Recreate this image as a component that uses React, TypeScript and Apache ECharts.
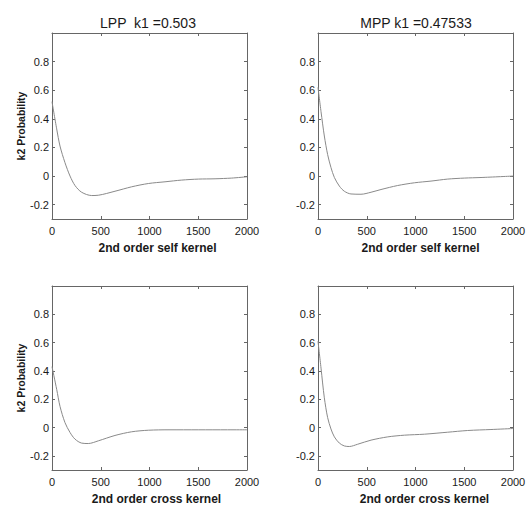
import React, { useEffect, useRef } from "react";
import * as echarts from "echarts";

// Data
const xTickValues = [0, 500, 1000, 1500, 2000];
const yTickValues = [-0.2, 0, 0.2, 0.4, 0.6, 0.8];

const titles = ["LPP  k1 =0.503", "MPP k1 =0.47533"];
const xNames = ["2nd order self kernel", "2nd order self kernel", "2nd order cross kernel", "2nd order cross kernel"];
const yName = "k2 Probability";

const lppSelfX = [0, 48, 82, 133, 185, 236, 304, 407, 475, 646, 817, 988, 1159, 1330, 1501, 1672, 1843, 2000];
const lppSelfY = [0.52, 0.33, 0.21, 0.094, 0.0, -0.066, -0.113, -0.136, -0.134, -0.106, -0.075, -0.052, -0.04, -0.028, -0.021, -0.019, -0.014, -0.005];

const mppSelfX = [0, 31, 65, 99, 133, 168, 219, 270, 338, 441, 544, 646, 817, 988, 1159, 1330, 1501, 1672, 2000];
const mppSelfY = [0.62, 0.45, 0.28, 0.15, 0.06, -0.01, -0.07, -0.106, -0.125, -0.127, -0.113, -0.094, -0.066, -0.047, -0.035, -0.021, -0.014, -0.01, 0.0];

const lppCrossX = [0, 48, 82, 133, 185, 236, 304, 372, 475, 646, 817, 988, 1200, 1500, 1800, 2000];
const lppCrossY = [0.43, 0.27, 0.15, 0.035, -0.035, -0.082, -0.11, -0.113, -0.094, -0.056, -0.03, -0.019, -0.016, -0.016, -0.016, -0.016];

const mppCrossX = [0, 31, 65, 99, 133, 168, 219, 270, 321, 407, 544, 715, 886, 1091, 1330, 1535, 1774, 2000];
const mppCrossY = [0.61, 0.42, 0.21, 0.07, -0.01, -0.066, -0.11, -0.13, -0.134, -0.118, -0.089, -0.066, -0.054, -0.047, -0.033, -0.021, -0.014, -0.007];

const seriesX = [lppSelfX, mppSelfX, lppCrossX, mppCrossX];
const seriesY = [lppSelfY, mppSelfY, lppCrossY, mppCrossY];

const FONT = '"Liberation Sans", Arial, Helvetica, sans-serif';
const AXIS_COLOR = "#666";
const TEXT_COLOR = "#1a1a1a";
const LINE_COLOR = "#8a8a8a";

const gridPos = [
  { left: 52, top: 33 },
  { left: 318, top: 33 },
  { left: 52, top: 286 },
  { left: 318, top: 286 },
];
const nameShift = [8, 5, 7, 9];

export default function App() {
  const ref = useRef<HTMLDivElement>(null);

  useEffect(() => {
    if (!ref.current) return;
    const chart = echarts.init(ref.current, null, { renderer: "svg" });

    const grids: any[] = [];
    const xAxes: any[] = [];
    const yAxes: any[] = [];
    const series: any[] = [];

    gridPos.forEach((g, i) => {
      grids.push({ left: g.left, top: g.top, width: 195, height: 186, containLabel: false });
      const lineStyle = { color: AXIS_COLOR, width: 1 };
      // bottom x axis
      xAxes.push({
        type: "value",
        gridIndex: i,
        position: "bottom",
        min: 0,
        max: 2000,
        interval: 500,
        name: xNames[i],
        nameLocation: "middle",
        nameGap: 23,
        nameTextStyle: {
          fontFamily: FONT,
          fontSize: 12,
          fontWeight: "bold",
          color: TEXT_COLOR,
          padding: [0, 0, 0, nameShift[i] * 2],
        },
        axisLine: { show: true, onZero: false, lineStyle },
        axisTick: { show: true, inside: true, length: 3, lineStyle },
        axisLabel: {
          show: true,
          margin: 6,
          fontFamily: FONT,
          fontSize: 11,
          color: TEXT_COLOR,
          customValues: xTickValues,
          formatter: (v: number) => String(v),
        },
        splitLine: { show: false },
      });
      // top x axis (box + mirrored ticks)
      xAxes.push({
        type: "value",
        gridIndex: i,
        position: "top",
        min: 0,
        max: 2000,
        interval: 500,
        axisLine: { show: true, onZero: false, lineStyle },
        axisTick: { show: true, inside: true, length: 3, lineStyle },
        axisLabel: { show: false },
        splitLine: { show: false },
      });
      // left y axis
      yAxes.push({
        type: "value",
        gridIndex: i,
        position: "left",
        min: -0.3,
        max: 1,
        name: i % 2 === 0 ? yName : "",
        nameLocation: "middle",
        nameRotate: 90,
        nameGap: 14,
        nameTextStyle: {
          fontFamily: FONT,
          fontSize: 10.5,
          fontWeight: "bold",
          color: TEXT_COLOR,
        },
        axisLine: { show: true, onZero: false, lineStyle },
        axisTick: { show: true, inside: true, length: 3, lineStyle, customValues: yTickValues },
        axisLabel: {
          show: true,
          margin: 3,
          fontFamily: FONT,
          fontSize: 11,
          color: TEXT_COLOR,
          customValues: yTickValues,
          formatter: (v: number) => String(Math.round(v * 10) / 10),
        },
        splitLine: { show: false },
      });
      // right y axis
      yAxes.push({
        type: "value",
        gridIndex: i,
        position: "right",
        min: -0.3,
        max: 1,
        axisLine: { show: true, onZero: false, lineStyle },
        axisTick: { show: true, inside: true, length: 3, lineStyle, customValues: yTickValues },
        axisLabel: { show: false },
        splitLine: { show: false },
      });

      series.push({
        type: "line",
        xAxisIndex: i * 2,
        yAxisIndex: i * 2,
        data: seriesX[i].map((x, k) => [x, seriesY[i][k]]),
        smooth: 0.3,
        showSymbol: false,
        symbol: "none",
        lineStyle: { color: LINE_COLOR, width: 1 },
        silent: true,
      });
    });

    chart.setOption({
      animation: false,
      backgroundColor: "#ffffff",
      title: [
        {
          text: titles[0],
          left: 148,
          top: 16,
          textAlign: "center",
          padding: 0,
          textStyle: { fontFamily: FONT, fontSize: 14, fontWeight: "normal", color: TEXT_COLOR },
        },
        {
          text: titles[1],
          left: 416,
          top: 16,
          textAlign: "center",
          padding: 0,
          textStyle: { fontFamily: FONT, fontSize: 14, fontWeight: "normal", color: TEXT_COLOR },
        },
      ],
      grid: grids,
      xAxis: xAxes,
      yAxis: yAxes,
      series,
    });

    return () => chart.dispose();
  }, []);

  return (
    <div
      ref={ref}
      style={{ position: "fixed", left: 0, top: 0, width: 532, height: 506, background: "#fff" }}
    />
  );
}
